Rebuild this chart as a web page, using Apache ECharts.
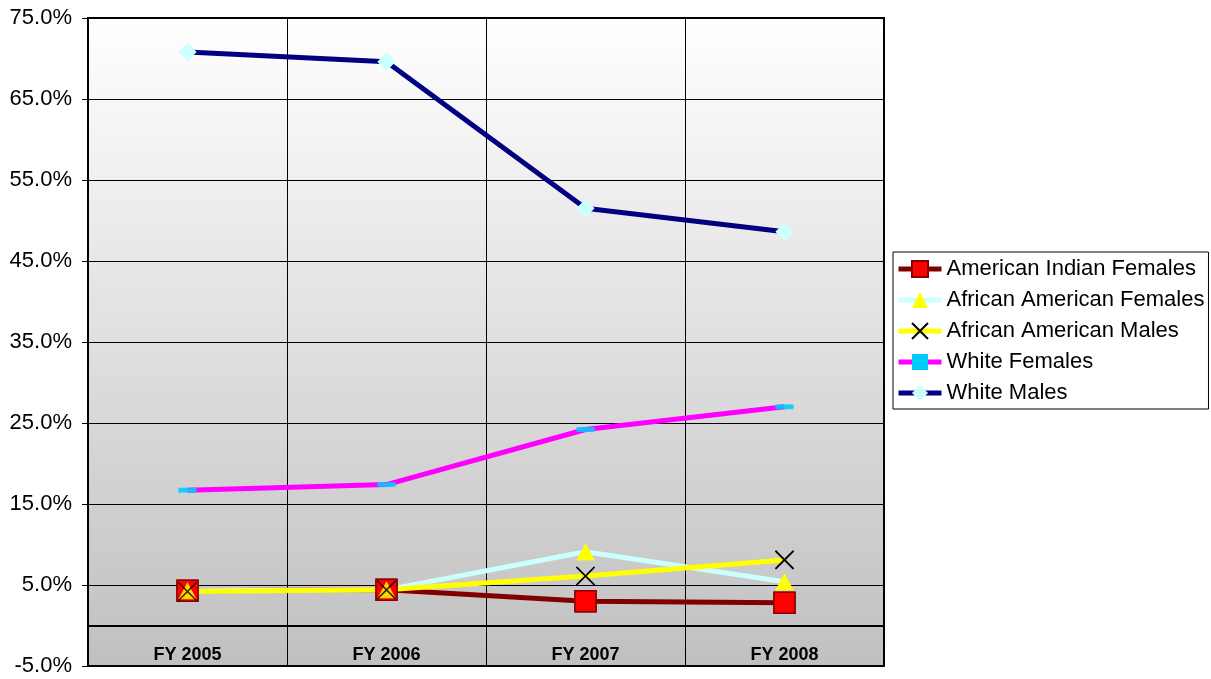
<!DOCTYPE html>
<html>
<head>
<meta charset="utf-8">
<script src="https://cdn.jsdelivr.net/npm/echarts@6/dist/echarts.min.js"></script>
<style>
  html, body { margin: 0; padding: 0; background: #ffffff; }
  #chart { width: 1211px; height: 679px; }
</style>
</head>
<body>
<div id="chart"></div>
<script>
// Fiscal years on the category axis
const categories = ['FY 2005', 'FY 2006', 'FY 2007', 'FY 2008'];

// Percentage share per group and year
const americanIndianFemales = [4.3, 4.4, 3.0, 2.8];
const africanAmericanFemales = [4.3, 4.4, 9.1, 5.4];
const africanAmericanMales = [4.2, 4.4, 6.1, 8.1];
const whiteFemales = [16.7, 17.4, 24.2, 27.0];
const whiteMales = [70.8, 69.6, 51.5, 48.6];

// Value axis range and step (percent)
const yMin = -5;
const yMax = 75;
const yStep = 10;

const FONT = '"Liberation Sans", Arial, sans-serif';

const groups = [
  {
    name: 'American Indian Females', data: americanIndianFemales,
    line: '#800000', symbol: 'rect', size: 21,
    item: { color: '#ff0000', borderColor: '#800000', borderWidth: 1.5 }
  },
  {
    name: 'African American Females', data: africanAmericanFemales,
    line: '#ccffff', symbol: 'triangle', size: [18, 17],
    item: { color: '#ffff00', borderWidth: 0 }
  },
  {
    name: 'African American Males', data: africanAmericanMales,
    line: '#ffff00', symbol: 'path://M0,0L10,10M10,0L0,10', size: 18,
    item: { color: 'rgba(0,0,0,0)', borderColor: '#000000', borderWidth: 1.5 }
  },
  {
    name: 'White Females', data: whiteFemales,
    line: '#ff00ff', symbol: 'path://M0,0H18V5H0Z', size: [18, 5],
    item: { color: '#00ccff', borderWidth: 0 }
  },
  {
    name: 'White Males', data: whiteMales,
    line: '#000080', symbol: 'diamond', size: 18,
    item: { color: '#ccffff', borderWidth: 0 }
  }
];

// Lines first (markers included for the legend icons)
const lineSeries = groups.map((g, i) => ({
  name: g.name,
  type: 'line',
  data: g.data,
  z: 2,
  symbol: g.symbol,
  symbolSize: g.size,
  symbolKeepAspect: true,
  showAllSymbol: true,
  itemStyle: g.item,
  lineStyle: { color: g.line, width: 5 },
  emphasis: { disabled: true },
  animation: false,
  markLine: i === 0 ? {
    silent: true,
    symbol: ['none', 'none'],
    label: { show: false },
    lineStyle: { color: '#000000', type: 'solid', width: 1 },
    data: [{ yAxis: 0 }]
  } : undefined
}));

// Markers drawn above every line
const markerSeries = groups.map(g => ({
  name: g.name,
  type: 'scatter',
  data: g.data,
  z: 5,
  symbol: g.symbol,
  symbolSize: g.size,
  itemStyle: g.item,
  emphasis: { disabled: true },
  animation: false
}));

const chart = echarts.init(document.getElementById('chart'), null, { renderer: 'canvas' });

chart.setOption({
  animation: false,
  backgroundColor: '#ffffff',
  grid: {
    left: 88, right: 327, top: 18, bottom: 13,
    show: true,
    backgroundColor: new echarts.graphic.LinearGradient(0, 0, 0, 1, [
      { offset: 0, color: '#ffffff' },
      { offset: 1, color: '#c0c0c0' }
    ]),
    borderColor: '#000000',
    borderWidth: 2
  },
  legend: {
    data: groups.map(g => g.name),
    orient: 'vertical',
    left: 893, top: 252,
    padding: [6, 4, 5, 3],
    itemGap: 9,
    itemWidth: 43,
    itemHeight: 20,
    symbolKeepAspect: true,
    borderColor: '#000000',
    borderWidth: 1,
    backgroundColor: '#ffffff',
    selectedMode: false,
    lineStyle: { width: 5 },
    textStyle: { fontFamily: FONT, fontSize: 22, color: '#000000', lineHeight: 22 }
  },
  xAxis: {
    type: 'category',
    data: categories,
    boundaryGap: true,
    axisLine: { show: true, lineStyle: { color: '#000000', width: 2 } },
    axisTick: { show: false },
    axisLabel: {
      inside: true, margin: 2,
      fontFamily: FONT, fontSize: 18, fontWeight: 'bold', color: '#000000'
    },
    splitLine: { show: true, lineStyle: { color: '#000000', width: 1 } }
  },
  yAxis: {
    type: 'value',
    min: yMin, max: yMax, interval: yStep,
    axisLine: { show: true, lineStyle: { color: '#000000', width: 2 } },
    axisTick: { show: true, length: 6, lineStyle: { color: '#000000' } },
    axisLabel: {
      margin: 16,
      fontFamily: FONT, fontSize: 22, color: '#000000',
      formatter: v => v.toFixed(1) + '%'
    },
    splitLine: { show: true, lineStyle: { color: '#000000', width: 1 } }
  },
  series: lineSeries.concat(markerSeries)
});
</script>
</body>
</html>
